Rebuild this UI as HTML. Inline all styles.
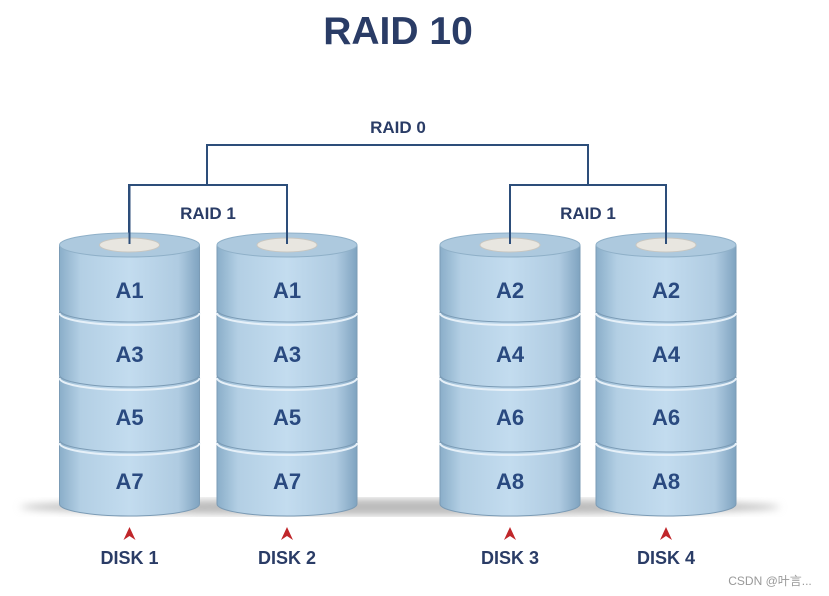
<!DOCTYPE html><html><head><style>body{margin:0;background:#fff}svg{display:block}text{font-family:"Liberation Sans",sans-serif;font-weight:bold}</style></head><body>
<svg width="829" height="596" viewBox="0 0 829 596">
<defs>
<linearGradient id="g" x1="0" x2="1"><stop offset="0" stop-color="#8aaec9"/><stop offset="0.15" stop-color="#b3cfe4"/><stop offset="0.5" stop-color="#c3dcef"/><stop offset="0.85" stop-color="#afcbe1"/><stop offset="1" stop-color="#7fa3c0"/></linearGradient>
<filter id="b"><feGaussianBlur stdDeviation="4"/></filter>
<g id="cyl">
<path d="M-70,442 L-70,504 A70,12 0 0 0 70,504 L70,442 Z" fill="url(#g)" stroke="#7b9bb5"/>
<path d="M-70,377 L-70,440 A70,12 0 0 0 70,440 L70,377 Z" fill="url(#g)" stroke="#7b9bb5"/>
<path d="M-70,312 L-70,375 A70,12 0 0 0 70,375 L70,312 Z" fill="url(#g)" stroke="#7b9bb5"/>
<path d="M-70,245 L-70,310 A70,12 0 0 0 70,310 L70,245 Z" fill="url(#g)" stroke="#7b9bb5"/>
<path d="M-70,313 A70,12 0 0 0 70,313" fill="none" stroke="#e6f0f8" stroke-width="2"/>
<path d="M-70,378 A70,12 0 0 0 70,378" fill="none" stroke="#e6f0f8" stroke-width="2"/>
<path d="M-70,443 A70,12 0 0 0 70,443" fill="none" stroke="#e6f0f8" stroke-width="2"/>
<ellipse cx="0" cy="245" rx="70" ry="12" fill="#adc9de" stroke="#8fb0c8"/>
<ellipse cx="0" cy="245" rx="30" ry="7" fill="#e8e6e0" stroke="#c8c6c0"/>
<line x1="0" y1="185" x2="0" y2="244" stroke="#2d4e7a" stroke-width="2"/>
<path d="M-6,540 L0,527 L6,540 L0,536 Z" fill="#c0262a"/>
</g>
</defs>
<text x="398" y="44" font-size="39" fill="#2a3c66" text-anchor="middle">RAID 10</text>
<ellipse cx="400" cy="507" rx="380" ry="8" fill="#bbb" filter="url(#b)"/>
<g stroke="#2d4e7a" stroke-width="2" fill="none">
<polyline points="207,185 207,145 588,145 588,185"/>
<polyline points="129,240 129,185 287,185 287,240"/>
<polyline points="510,240 510,185 666,185 666,240"/>
</g>
<text x="398" y="133" font-size="17" fill="#2a3c66" text-anchor="middle">RAID 0</text>
<text x="208" y="219" font-size="17" fill="#2a3c66" text-anchor="middle">RAID 1</text>
<text x="588" y="219" font-size="17" fill="#2a3c66" text-anchor="middle">RAID 1</text>
<use href="#cyl" x="129.5"/><use href="#cyl" x="287"/><use href="#cyl" x="510"/><use href="#cyl" x="666"/>
<g font-size="22" fill="#2a4a80" text-anchor="middle">
<text x="129.5" y="298">A1</text><text x="129.5" y="362">A3</text><text x="129.5" y="425">A5</text><text x="129.5" y="489">A7</text>
<text x="287" y="298">A1</text><text x="287" y="362">A3</text><text x="287" y="425">A5</text><text x="287" y="489">A7</text>
<text x="510" y="298">A2</text><text x="510" y="362">A4</text><text x="510" y="425">A6</text><text x="510" y="489">A8</text>
<text x="666" y="298">A2</text><text x="666" y="362">A4</text><text x="666" y="425">A6</text><text x="666" y="489">A8</text>
</g>
<g font-size="18" fill="#2a3c66" text-anchor="middle">
<text x="129.5" y="564">DISK 1</text><text x="287" y="564">DISK 2</text><text x="510" y="564">DISK 3</text><text x="666" y="564">DISK 4</text>
</g>
<text x="770" y="585" font-size="12" fill="#999" text-anchor="middle" style="font-weight:normal;font-family:'Liberation Sans','Noto Sans CJK SC',sans-serif">CSDN @叶言...</text>
</svg>
</body></html>
